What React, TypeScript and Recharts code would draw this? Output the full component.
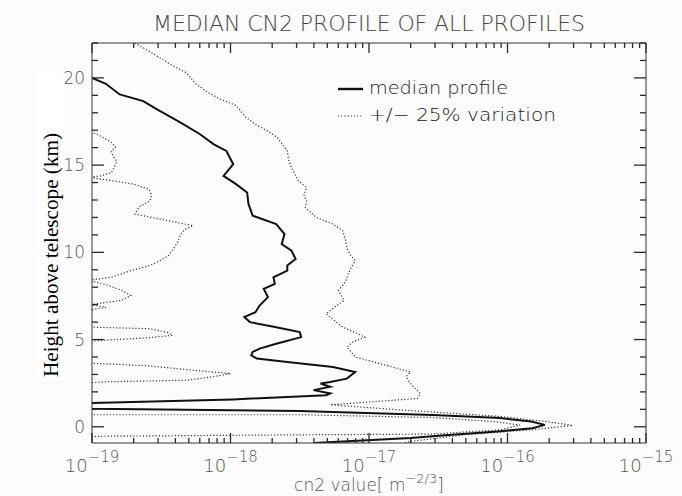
import { LineChart, Line, XAxis, YAxis } from 'recharts';

const W = 682;
const H = 496;

// [height km, log10 cn2]
const median: [number, number][] = [
  [20.0, -19.0], [19.66, -18.9], [19.05, -18.8], [18.67, -18.63], [18.2, -18.53], [17.43, -18.36],
  [16.77, -18.22], [16.19, -18.12], [15.81, -18.03], [15.05, -17.98], [14.38, -18.05], [13.91, -17.96],
  [13.43, -17.88], [12.77, -17.87], [12.1, -17.84], [11.62, -17.67], [11.05, -17.61], [10.48, -17.63],
  [10.1, -17.56], [9.62, -17.53], [9.24, -17.59], [8.95, -17.59], [8.57, -17.69], [8.19, -17.68],
  [7.91, -17.76], [7.43, -17.73], [6.95, -17.79], [6.57, -17.82], [6.29, -17.9], [6.0, -17.86],
  [5.71, -17.67], [5.43, -17.5], [5.14, -17.49], [4.76, -17.67], [4.48, -17.79], [4.29, -17.84],
  [4.1, -17.85], [3.91, -17.81], [3.71, -17.59], [3.43, -17.26], [3.14, -17.1], [2.76, -17.16],
  [2.57, -17.28], [2.48, -17.35], [2.29, -17.28], [2.1, -17.4], [1.91, -17.28], [1.81, -17.31],
  [1.57, -17.98], [1.36, -19.0], [1.2, -19.4], [1.03, -19.0], [0.91, -17.5], [0.67, -16.54],
  [0.5, -16.05], [0.3, -15.83], [0.11, -15.73], [-0.08, -15.82], [-0.25, -16.05], [-0.48, -16.45],
  [-0.65, -16.7], [-0.93, -17.4],
];

const upper: [number, number][] = [
  [22.0, -18.69], [21.4, -18.56], [20.8, -18.44], [20.3, -18.32], [19.66, -18.25], [19.2, -18.17],
  [18.8, -18.08], [18.42, -17.96], [17.75, -17.89], [17.34, -17.82], [16.9, -17.72], [16.57, -17.66],
  [15.81, -17.59], [15.3, -17.58], [14.86, -17.56], [14.1, -17.51], [13.71, -17.45], [13.3, -17.47],
  [12.95, -17.45], [12.57, -17.46], [12.0, -17.38], [11.62, -17.26], [11.24, -17.19], [10.7, -17.17],
  [10.29, -17.16], [9.9, -17.14], [9.53, -17.1], [9.1, -17.13], [8.77, -17.15], [8.3, -17.17],
  [7.81, -17.22], [7.24, -17.18], [6.85, -17.25], [6.48, -17.31], [6.1, -17.25], [5.71, -17.19],
  [5.4, -17.1], [5.14, -17.03], [4.85, -17.12], [4.57, -17.16], [4.3, -17.13], [4.0, -17.1],
  [3.62, -16.92], [3.4, -16.82], [3.14, -16.7], [2.9, -16.73], [2.67, -16.72], [2.3, -16.68],
  [1.91, -16.63], [1.62, -16.65], [1.54, -16.79], [1.26, -17.28], [0.97, -16.78], [0.59, -16.05],
  [0.3, -15.72], [0.08, -15.53], [-0.17, -15.82], [-0.46, -16.31], [-0.83, -16.69], [-0.93, -16.75],
];

const lower: [number, number][] = [
  [18.0, -19.4], [16.9, -19.0], [16.67, -18.94], [16.3, -18.86], [16.04, -18.83], [15.8, -18.86],
  [15.53, -18.85], [15.2, -18.82], [14.86, -18.84], [14.57, -18.86], [14.38, -18.94], [14.3, -19.02],
  [14.1, -18.85], [13.91, -18.7], [13.62, -18.59], [13.3, -18.57], [12.95, -18.58], [12.6, -18.66],
  [12.19, -18.69], [11.91, -18.51], [11.7, -18.38], [11.53, -18.27], [11.3, -18.33], [11.05, -18.36],
  [10.6, -18.38], [10.1, -18.42], [9.8, -18.45], [9.43, -18.53], [9.2, -18.6], [8.95, -18.72],
  [8.57, -18.86], [8.4, -19.02], [8.1, -18.88], [7.8, -18.78], [7.52, -18.72], [7.24, -18.79],
  [7.0, -19.02], [6.85, -18.9], [6.65, -19.05], [6.2, -19.4], [5.71, -19.0], [5.62, -18.58],
  [5.4, -18.45], [5.24, -18.42], [5.1, -18.6], [4.95, -18.94], [4.9, -19.02], [4.3, -19.4],
  [3.64, -19.02], [3.62, -18.94], [3.5, -18.6], [3.24, -18.27], [3.05, -18.0], [2.86, -18.13],
  [2.67, -18.32], [2.57, -18.94], [2.5, -19.02], [1.6, -19.4], [0.69, -19.02], [0.69, -17.5],
  [0.53, -16.54], [0.3, -16.1], [0.1, -15.91], [-0.17, -16.05], [-0.42, -16.54], [-0.46, -17.5],
  [-0.55, -19.02], [-0.93, -19.4],
];

const decades = [-19, -18, -17, -16];
const mantissas = [1, 2, 3, 4, 5, 6, 7, 8, 9];
const xTicks = [...decades.flatMap((d) => mantissas.map((m) => m * 10 ** d)), 1e-15];
const yTicks = Array.from({ length: 23 }, (_, i) => i);
const yLabels = [0, 5, 10, 15, 20];

const toRows = (pts: [number, number][]) => pts.map(([h, lg]) => ({ h, cn2: 10 ** lg }));

const INK = '#333';
const TICK = '#2a2a2a';
const LABEL = '#555';
const FONT = '"DejaVu Sans", sans-serif';

const expOf = (v: number) => Math.log10(v);
const isDecade = (v: number) => Math.abs(expOf(v) - Math.round(expOf(v))) < 1e-6;

const BottomTick = (p: any) => {
  const { x, y, payload } = p;
  const major = isDecade(payload.value);
  return (
    <g>
      <path d={`M${x},${y}V${y - (major ? 10 : 5)}`} stroke={TICK} strokeWidth={1.3} />
      {major && (
        <text x={x} y={y + 29} textAnchor="middle" fill={LABEL} fontFamily={FONT} fontSize={18} fontWeight={300}>
          10<tspan dy={-10} fontSize={15}>{'\u2212' + Math.abs(Math.round(expOf(payload.value)))}</tspan>
        </text>
      )}
    </g>
  );
};

const TopTick = (p: any) => {
  const { x, y, payload } = p;
  const major = isDecade(payload.value);
  return <path d={`M${x},${y}V${y + (major ? 10 : 5)}`} stroke={TICK} strokeWidth={1.3} />;
};

const LeftTick = (p: any) => {
  const { x, y, payload } = p;
  const major = yLabels.includes(payload.value);
  return (
    <g>
      <path d={`M${x},${y}H${x + (major ? 12 : 6)}`} stroke={TICK} strokeWidth={1.3} />
      {major && (
        <text x={x - 7} y={y + 6} textAnchor="end" fill={LABEL} fontFamily={FONT} fontSize={17} fontWeight={300}>
          {payload.value}
        </text>
      )}
    </g>
  );
};

const RightTick = (p: any) => {
  const { x, y, payload } = p;
  const major = yLabels.includes(payload.value);
  return <path d={`M${x},${y}H${x - (major ? 12 : 6)}`} stroke={TICK} strokeWidth={1.3} />;
};

export default function App() {
  return (
    <div style={{ position: 'absolute', left: 0, top: 0, width: W, height: H, background: '#fcfcfc' }}>
      <LineChart width={W} height={H} layout="vertical" margin={{ top: 42, right: 35, bottom: 0, left: 0 }}>
        <XAxis type="number" scale="log" domain={[1e-19, 1e-15]} allowDataOverflow ticks={xTicks} interval={0}
          tick={BottomTick} tickLine={false} tickSize={0} tickMargin={0} height={53} axisLine={{ stroke: INK }} />
        <XAxis xAxisId="top" orientation="top" type="number" scale="log" domain={[1e-19, 1e-15]} allowDataOverflow
          ticks={xTicks} interval={0} tick={TopTick} tickLine={false} tickSize={0} tickMargin={0} height={1}
          axisLine={{ stroke: INK }} />
        <YAxis type="number" dataKey="h" reversed domain={[-0.93, 22]} allowDataOverflow ticks={yTicks} interval={0}
          tick={LeftTick} tickLine={false} tickSize={0} tickMargin={0} width={92} axisLine={{ stroke: INK }} />
        <YAxis yAxisId="right" orientation="right" type="number" dataKey="h" reversed domain={[-0.93, 22]}
          allowDataOverflow ticks={yTicks} interval={0} tick={RightTick} tickLine={false} tickSize={0} tickMargin={0}
          width={1} axisLine={{ stroke: INK }} />
        <Line data={toRows(lower)} dataKey="cn2" stroke="#333" strokeWidth={1.2} strokeDasharray="1.2 2" dot={false} activeDot={false} isAnimationActive={false} />
        <Line data={toRows(upper)} dataKey="cn2" stroke="#333" strokeWidth={1.2} strokeDasharray="1.2 2" dot={false} activeDot={false} isAnimationActive={false} />
        <Line data={toRows(median)} dataKey="cn2" stroke="#111" strokeWidth={2} dot={false} activeDot={false} isAnimationActive={false} />
      </LineChart>
      <svg width={W} height={H} style={{ position: 'absolute', left: 0, top: 0, pointerEvents: 'none' }}>
        <text x={153} y={31} textLength={432} lengthAdjust="spacing" fill="#444" fontFamily={FONT} fontSize={22} fontWeight={300}>
          MEDIAN CN2 PROFILE OF ALL PROFILES
        </text>
        <line x1={338} x2={363} y1={89} y2={89} stroke="#111" strokeWidth={2.4} />
        <text x={369} y={94} textLength={139} lengthAdjust="spacingAndGlyphs" fill="#222" fontFamily={FONT} fontSize={18} fontWeight={300}>
          median profile
        </text>
        <line x1={338} x2={362} y1={116} y2={116} stroke="#333" strokeWidth={1.2} strokeDasharray="1.2 2" />
        <text x={369} y={121} textLength={187} lengthAdjust="spacingAndGlyphs" fill="#222" fontFamily={FONT} fontSize={18} fontWeight={300}>
          +/− 25% variation
        </text>
        <text x={369} y={491} textAnchor="middle" fill={LABEL} fontFamily={FONT} fontSize={17} fontWeight={300}>
          cn2 value[ m<tspan dy={-8} fontSize={13}>−2/3</tspan><tspan dy={8}>]</tspan>
        </text>
        <rect x={37} y={73} width={28} height={307} fill="#ffffff" />
        <text x={0} y={0} transform="translate(58 255) rotate(-90)" textAnchor="middle" textLength={244}
          lengthAdjust="spacingAndGlyphs" fill="#000" fontFamily='"Liberation Serif", "Times New Roman", serif' fontSize={21}>
          Height above telescope (km)
        </text>
      </svg>
    </div>
  );
}
